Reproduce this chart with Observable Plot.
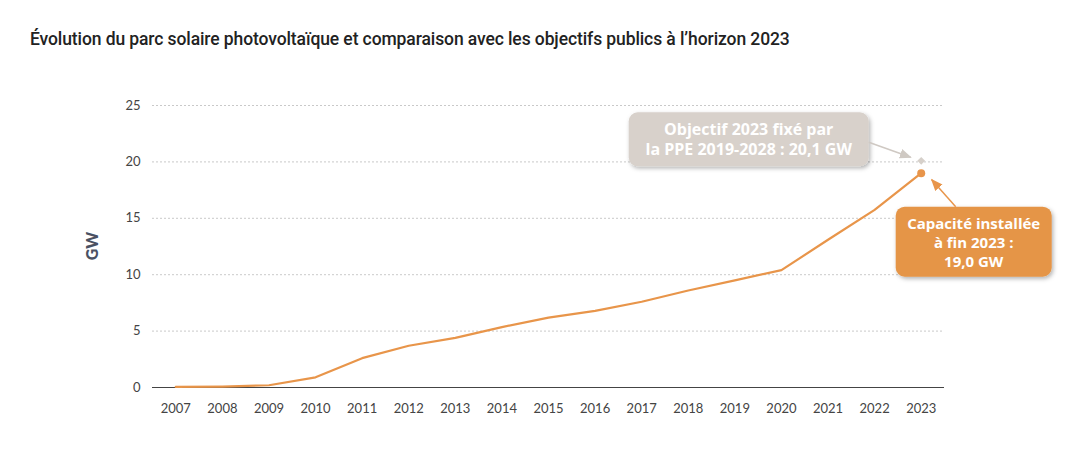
<!DOCTYPE html>
<html>
<head>
<meta charset="utf-8">
<script src="https://cdn.jsdelivr.net/npm/d3@7"></script>
<script src="https://cdn.jsdelivr.net/npm/@observablehq/plot@0.6"></script>
<style>
  html, body { margin: 0; padding: 0; background: #fff; }
  #title { font-family: Roboto, sans-serif; font-weight: 500; font-size: 17.5px; color: #222; height: 70px; box-sizing: border-box; padding: 29px 0 0 30px; letter-spacing: -0.1px; }
  #chart svg { display: block; }
</style>
</head>
<body>
<div id="title">Évolution du parc solaire photovoltaïque et comparaison avec les objectifs publics à l’horizon 2023</div>
<div id="chart"></div>
<script>
const years = [2007, 2008, 2009, 2010, 2011, 2012, 2013, 2014, 2015, 2016, 2017, 2018, 2019, 2020, 2021, 2022, 2023];
const capacity = [0.05, 0.08, 0.2, 0.9, 2.6, 3.7, 4.4, 5.35, 6.2, 6.8, 7.6, 8.6, 9.5, 10.4, 13.1, 15.75, 19.0];
const yTicks = [0, 5, 10, 15, 20, 25];
const objectiveYear = 2023;
const objectiveValue = 20.1;
const objectiveLines = ["Objectif 2023 fixé par", "la PPE 2019-2028 : 20,1 GW"];
const actualLines = ["Capacité installée", "à fin 2023 :", "19,0 GW"];

const data = years.map((y, i) => ({year: y, value: capacity[i]}));
const orange = "#e8954a";

const chart = Plot.plot({
  width: 1090,
  height: 397,
  marginTop: 35,
  marginBottom: 80,
  marginLeft: 152,
  marginRight: 146,
  style: {fontFamily: "Lato, sans-serif", fontSize: "13px", color: "#444"},
  x: {type: "point", domain: years, padding: 0.5, round: false, label: null, tickSize: 0, tickPadding: 16, tickFormat: d => String(d)},
  y: {domain: [0, 25], ticks: yTicks, label: null, tickSize: 0, tickPadding: 12},
  marks: [
    Plot.gridY(yTicks.filter(d => d > 0), {stroke: "#bbb", strokeOpacity: 1, strokeDasharray: "2,2", strokeWidth: 0.8}),
    Plot.ruleY([0], {stroke: "#444", strokeWidth: 1.2}),
    Plot.line(data, {x: "year", y: "value", stroke: orange, strokeWidth: 2.2}),
    Plot.dot([data[data.length - 1]], {x: "year", y: "value", fill: orange, r: 4}),
    Plot.dot([{year: objectiveYear, value: objectiveValue}], {x: "year", y: "value", fill: "#d6d0ca", symbol: "diamond2", r: 3.5})
  ]
});
document.getElementById("chart").append(chart);

const svg = d3.select(chart);
const sx = chart.scale("x"), sy = chart.scale("y");
const ox = sx.apply(objectiveYear), oy = sy.apply(objectiveValue);
const ax = sx.apply(years[years.length - 1]), ay = sy.apply(capacity[capacity.length - 1]);

const defs = svg.append("defs");
const f = defs.append("filter").attr("id", "shadow").attr("x", "-20%").attr("y", "-20%").attr("width", "140%").attr("height", "160%");
f.append("feDropShadow").attr("dx", 1.5).attr("dy", 2).attr("stdDeviation", 2).attr("flood-color", "#000").attr("flood-opacity", 0.3);
const mk = (id, color) => {
  defs.append("marker").attr("id", id).attr("viewBox", "0 0 10 10").attr("refX", 9).attr("refY", 5)
    .attr("markerWidth", 8).attr("markerHeight", 8).attr("orient", "auto-start-reverse")
    .append("path").attr("d", "M0,1 L10,5 L0,9 Z").attr("fill", color);
};
mk("arrGrey", "#cfc9c3");
mk("arrOrange", orange);

const boxFont = "'Open Sans', sans-serif";

// Objective box
const g1 = svg.append("g");
g1.append("rect").attr("x", ox - 292).attr("y", oy - 48).attr("width", 240).attr("height", 54).attr("rx", 9)
  .attr("fill", "#d8d1cb").attr("filter", "url(#shadow)");
g1.append("text").attr("x", ox - 172).attr("y", oy - 25).attr("text-anchor", "middle")
  .attr("font-family", boxFont).attr("font-weight", 700).attr("font-size", 16).attr("fill", "#fff")
  .selectAll("tspan").data(objectiveLines).join("tspan").attr("x", ox - 172).attr("dy", (d, i) => i ? 20 : 0).text(d => d);
svg.append("line").attr("x1", ox - 52).attr("y1", oy - 18).attr("x2", ox - 10).attr("y2", oy - 3)
  .attr("stroke", "#cfc9c3").attr("stroke-width", 1.5).attr("marker-end", "url(#arrGrey)");

// Actual box
const g2 = svg.append("g");
g2.append("rect").attr("x", ax - 25).attr("y", ay + 34).attr("width", 156).attr("height", 70).attr("rx", 9)
  .attr("fill", "#e59546").attr("filter", "url(#shadow)");
g2.append("text").attr("x", ax + 53).attr("y", ay + 56).attr("text-anchor", "middle")
  .attr("font-family", boxFont).attr("font-weight", 700).attr("font-size", 15).attr("fill", "#fff")
  .selectAll("tspan").data(actualLines).join("tspan").attr("x", ax + 53).attr("dy", (d, i) => i ? 19 : 0).text(d => d);
svg.append("line").attr("x1", ax + 35).attr("y1", ay + 34).attr("x2", ax + 11).attr("y2", ay + 7)
  .attr("stroke", orange).attr("stroke-width", 1.5).attr("marker-end", "url(#arrOrange)");

// GW label
svg.append("text").attr("transform", `translate(98, ${sy.apply(12.5)}) rotate(-90)`).attr("text-anchor", "middle")
  .attr("font-family", "Lato, sans-serif").attr("font-weight", 900).attr("font-size", 16).attr("fill", "#4a5162").text("GW");
</script>
</body>
</html>
